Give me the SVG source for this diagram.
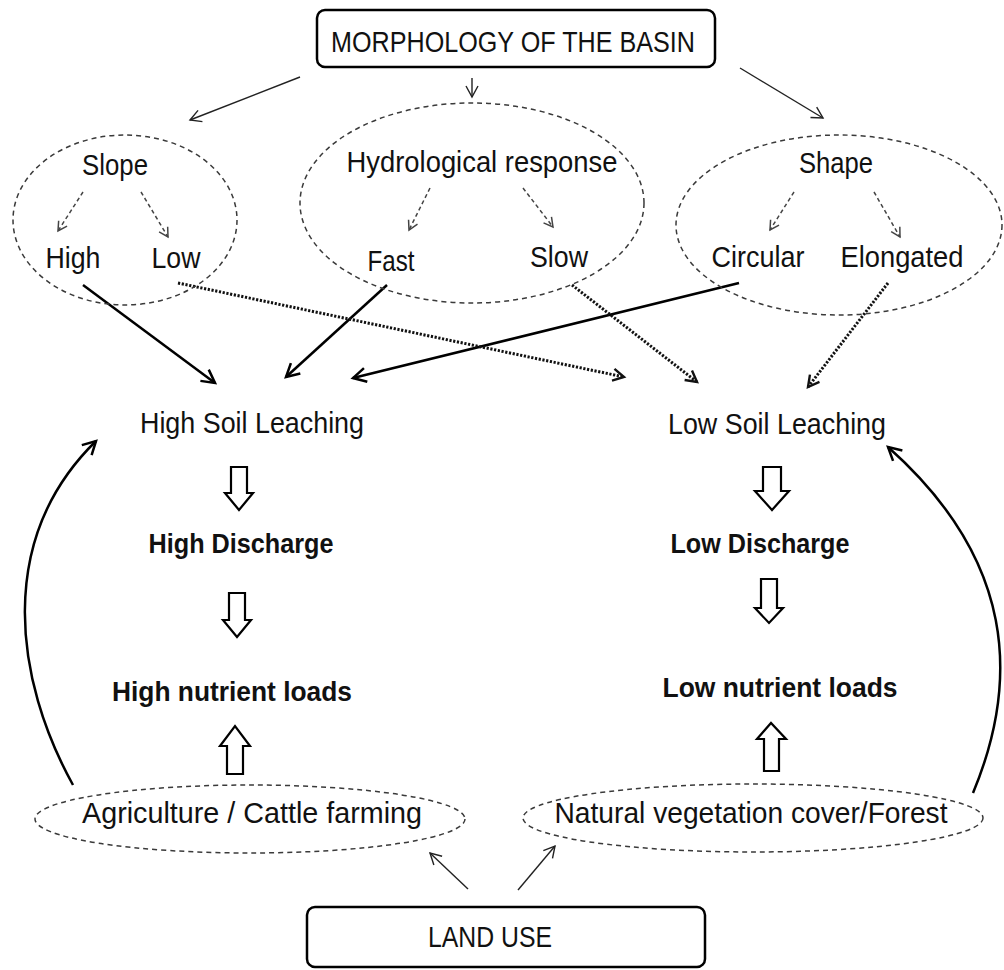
<svg xmlns="http://www.w3.org/2000/svg" width="1004" height="970" viewBox="0 0 1004 970">
<style>
.t{font-family:"Liberation Sans",Arial,sans-serif;font-size:29px;fill:#111;text-anchor:middle}
.b{font-weight:bold;font-size:28px}
.box{fill:#fff;stroke:#000;stroke-width:2.5}
.ell{fill:none;stroke:#3a3a3a;stroke-width:1.5;stroke-dasharray:5,4}
.thin{stroke:#222;stroke-width:1.4;fill:none}
.thick{stroke:#000;stroke-width:2.5;fill:none}
.dash{stroke:#444;stroke-width:1.5;fill:none;stroke-dasharray:4,3}
.dot{stroke:#111;stroke-width:3;fill:none;stroke-dasharray:2.2,1.6}
.blk{fill:#fff;stroke:#000;stroke-width:2.2;stroke-linejoin:miter}
</style>
<defs>
<marker id="mThin" markerUnits="userSpaceOnUse" markerWidth="20" markerHeight="20" refX="0" refY="0" orient="auto" style="overflow:visible"><path d="M-11,-6 L0,0 L-11,6" fill="none" stroke="#222" stroke-width="1.4"/></marker>
<marker id="mThick" markerUnits="userSpaceOnUse" markerWidth="20" markerHeight="20" refX="0" refY="0" orient="auto" style="overflow:visible"><path d="M-13,-7 L0,0 L-13,7" fill="none" stroke="#000" stroke-width="2.5"/></marker>
<marker id="mDash" markerUnits="userSpaceOnUse" markerWidth="20" markerHeight="20" refX="0" refY="0" orient="auto" style="overflow:visible"><path d="M-9,-5 L0,0 L-9,5" fill="none" stroke="#444" stroke-width="1.5"/></marker>
<marker id="mDot" markerUnits="userSpaceOnUse" markerWidth="20" markerHeight="20" refX="0" refY="0" orient="auto" style="overflow:visible"><path d="M-11,-6 L0,0 L-11,6" fill="none" stroke="#111" stroke-width="2.4"/></marker>
</defs>
<rect width="1004" height="970" fill="#fff"/>

<g id="connectors">
<line class="thin" x1="300" y1="77" x2="190" y2="120" marker-end="url(#mThin)"/>
<line class="thin" x1="472" y1="78" x2="472" y2="97" marker-end="url(#mThin)"/>
<line class="thin" x1="740" y1="68" x2="823" y2="118" marker-end="url(#mThin)"/>
<line class="dash" x1="83" y1="192" x2="58" y2="231" marker-end="url(#mDash)"/>
<line class="dash" x1="141" y1="192" x2="168" y2="237" marker-end="url(#mDash)"/>
<line class="dash" x1="430" y1="188" x2="409" y2="230" marker-end="url(#mDash)"/>
<line class="dash" x1="523" y1="188" x2="553" y2="227" marker-end="url(#mDash)"/>
<line class="dash" x1="794" y1="192" x2="770" y2="230" marker-end="url(#mDash)"/>
<line class="dash" x1="874" y1="192" x2="900" y2="237" marker-end="url(#mDash)"/>
<line class="thick" x1="83" y1="285" x2="215" y2="383" marker-end="url(#mThick)"/>
<line class="thick" x1="387" y1="285" x2="286" y2="377" marker-end="url(#mThick)"/>
<line class="thick" x1="739" y1="283" x2="353" y2="378" marker-end="url(#mThick)"/>
<line class="dot" x1="178" y1="283" x2="624" y2="377" marker-end="url(#mDot)"/>
<line class="dot" x1="572" y1="285" x2="697" y2="382" marker-end="url(#mDot)"/>
<line class="dot" x1="888" y1="283" x2="808" y2="387" marker-end="url(#mDot)"/>
<path class="thick" d="M73,785 C15,680 -5,540 96,441" marker-end="url(#mThick)"/>
<path class="thick" d="M973,793 C1020,680 1015,560 888,447" marker-end="url(#mThick)"/>
<line class="thin" x1="468" y1="889" x2="430" y2="853" marker-end="url(#mThin)"/>
<line class="thin" x1="518" y1="890" x2="555" y2="846" marker-end="url(#mThin)"/>
<path class="blk" d="M231,467 H247 V493 H253 L239,510 L225,493 H231 Z"/>
<path class="blk" d="M229,593 H245 V620 H251 L237,637 L223,620 H229 Z"/>
<path class="blk" d="M227,774 H243 V746 H250 L235,726 L220,746 H227 Z"/>
<path class="blk" d="M763,467 H781 V491 H789 L772,510 L755,491 H763 Z"/>
<path class="blk" d="M761,579 H777 V608 H783 L769,623 L755,608 H761 Z"/>
<path class="blk" d="M764,771 H779 V739 H786 L771,723 L757,739 H764 Z"/>
</g>

<g id="morphology">
<rect class="box" x="317" y="10" width="398" height="57" rx="8"/>
<text class="t" x="513" y="52" font-size="30" textLength="364" lengthAdjust="spacingAndGlyphs">MORPHOLOGY OF THE BASIN</text>
</g>
<g id="slope">
<ellipse class="ell" cx="125" cy="220" rx="112" ry="85"/>
<text class="t" x="115" y="175" textLength="66" lengthAdjust="spacingAndGlyphs">Slope</text>
<text class="t" x="73" y="268" textLength="55" lengthAdjust="spacingAndGlyphs">High</text>
<text class="t" x="176" y="268" textLength="49" lengthAdjust="spacingAndGlyphs">Low</text>
</g>
<g id="hydro">
<ellipse class="ell" cx="472" cy="203" rx="172" ry="100"/>
<text class="t" x="482" y="172" textLength="271" lengthAdjust="spacingAndGlyphs">Hydrological response</text>
<text class="t" x="391" y="271" textLength="47" lengthAdjust="spacingAndGlyphs">Fast</text>
<text class="t" x="559" y="267" textLength="58" lengthAdjust="spacingAndGlyphs">Slow</text>
</g>
<g id="shape">
<ellipse class="ell" cx="839" cy="225" rx="163" ry="90"/>
<text class="t" x="836" y="173" textLength="74" lengthAdjust="spacingAndGlyphs">Shape</text>
<text class="t" x="758" y="267" textLength="93" lengthAdjust="spacingAndGlyphs">Circular</text>
<text class="t" x="902" y="267" textLength="123" lengthAdjust="spacingAndGlyphs">Elongated</text>
</g>
<g id="hsl"><text class="t" x="252" y="433" textLength="224" lengthAdjust="spacingAndGlyphs">High Soil Leaching</text></g>
<g id="hd"><text class="t b" x="241" y="553" textLength="185" lengthAdjust="spacingAndGlyphs">High Discharge</text></g>
<g id="hnl"><text class="t b" x="232" y="701" textLength="240" lengthAdjust="spacingAndGlyphs">High nutrient loads</text></g>
<g id="lsl"><text class="t" x="777" y="434" textLength="218" lengthAdjust="spacingAndGlyphs">Low Soil Leaching</text></g>
<g id="ld"><text class="t b" x="760" y="553" textLength="179" lengthAdjust="spacingAndGlyphs">Low Discharge</text></g>
<g id="lnl"><text class="t b" x="780" y="697" textLength="235" lengthAdjust="spacingAndGlyphs">Low nutrient loads</text></g>
<g id="agri">
<ellipse class="ell" cx="250" cy="819" rx="215" ry="34"/>
<text class="t" x="252" y="823" textLength="340" lengthAdjust="spacingAndGlyphs">Agriculture / Cattle farming</text>
</g>
<g id="nat">
<ellipse class="ell" cx="753" cy="818" rx="230" ry="34"/>
<text class="t" x="751" y="823" textLength="393" lengthAdjust="spacingAndGlyphs">Natural vegetation cover/Forest</text>
</g>
<g id="landuse">
<rect class="box" x="307" y="907" width="398" height="60" rx="8"/>
<text class="t" x="490" y="947" font-size="28" textLength="124" lengthAdjust="spacingAndGlyphs">LAND USE</text>
</g>
</svg>
